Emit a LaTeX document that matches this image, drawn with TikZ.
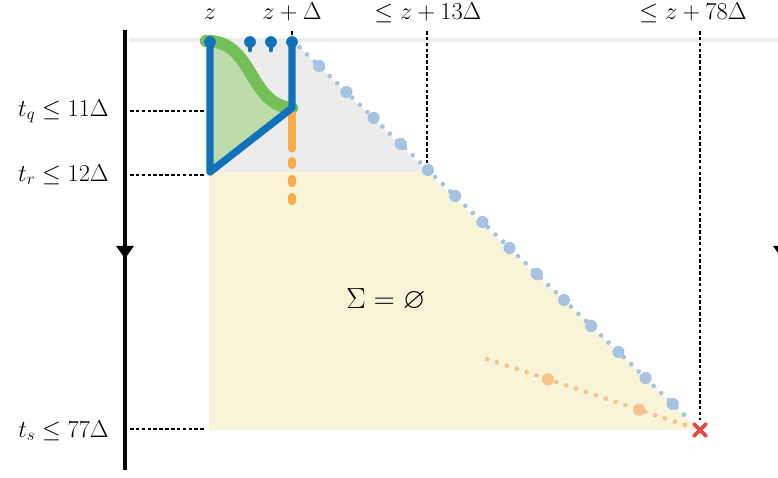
\documentclass[tikz,border=0pt]{standalone}
\usepackage{amsmath,amssymb}
\usepackage{tikz}
\usetikzlibrary{positioning,calc}
\usetikzlibrary{arrows.meta,decorations.markings}
\definecolor{ChainBlue}{RGB}{16,114,186}
\definecolor{DotBlue}{RGB}{168,194,226}
\definecolor{ForkGreen}{RGB}{116,191,87}
\definecolor{PaleGreen}{RGB}{188,220,170}
\definecolor{SoftGray}{RGB}{236,236,236}
\definecolor{PaleYellow}{RGB}{248,244,216}
\definecolor{VoteOrange}{RGB}{248,172,72}
\definecolor{DotOrange}{RGB}{248,194,140}
\definecolor{CrossRed}{RGB}{232,69,69}
\tikzset{
  timeaxis/.style={line width=3.6pt,postaction={decorate},
    decoration={markings,mark=at position 0.52 with {\arrow{Triangle[length=11pt,width=14.5pt]}}}},
  guide/.style={densely dashed,line width=1.2pt},
  lab/.style={font=\huge,inner sep=0pt},
  chain/.style={draw=ChainBlue,line width=6.2pt,line join=round,line cap=round},
  bluedots/.style={draw=DotBlue,line width=4pt,line cap=round,dash pattern=on 0pt off 8.9pt},
  orangedots/.style={draw=DotOrange,line width=4pt,line cap=round,dash pattern=on 0pt off 8.9pt},
}
\tikzset{fork/.style={draw=ForkGreen,line width=10.5pt,line cap=round},
  vote/.style={draw=VoteOrange,line width=6pt,line cap=round},
  cross/.style={draw=CrossRed,line width=3.2pt,line cap=round}}

\begin{document}
\begin{tikzpicture}[x=0.03cm,y=-0.03cm]
\useasboundingbox (0,0) rectangle (778,478);
% time points
\coordinate (zt) at (210,42);
\coordinate (zdt) at (292,42);
\coordinate (rb) at (210,172);
\coordinate (qr) at (292,108);
\coordinate (top) at (292,40);
\coordinate (mid) at (427,172);
\coordinate (end) at (700,430);
\coordinate (sb) at (209,430);
% regions
\draw[SoftGray,line width=2.6pt] (130,40) -- (778,40);
\fill[SoftGray] (209,40) -- (top) -- (mid) -- (209,172) -- cycle;
\fill[PaleYellow] (209,172) -- (mid) -- (end) -- (sb) -- cycle;
% guides
\draw[guide] (130,111) -- (204,111);
\draw[guide] (130,175) -- (206,175);
\draw[guide] (130,429) -- (205,429);
\draw[guide] (292,31) -- (top);
\draw[guide] (427,31) -- (mid);
\draw[guide] (700,31) -- (700,420);
% dotted chains
\draw[bluedots] (top) -- ($(top)!0.965!(end)$);
\foreach \k in {1,...,14}
  \fill[DotBlue] ($(top)!\k/15!(end)$) circle[radius=5.2pt];
\coordinate (ob) at (487,359);
\draw[orangedots] (ob) -- ($(ob)!0.95!(end)$);
\fill[DotOrange] ($(ob)!2/7!(end)$) circle[radius=5.2pt];
\fill[DotOrange] ($(ob)!5/7!(end)$) circle[radius=5.2pt];
\draw[cross] ($(end)+(-6,-6)$) -- ($(end)+(6,6)$);
\draw[cross] ($(end)+(-6,6)$) -- ($(end)+(6,-6)$);
% fork
\fill[PaleGreen] (zt) .. controls (254,40) and (248,105) .. (qr) -- (rb) -- cycle;
\draw[fork] (206,41) .. controls (254,40) and (248,105) .. (qr);
\draw[vote] (292,114) -- (292,149);
\foreach \y in {163,181,199}
  \draw[vote] (292,\y-2.5) -- (292,\y+2.5);
\draw[chain] (zt) -- (rb) -- (qr) -- (zdt);
\foreach \x in {250,271}{
  \draw[ChainBlue,line width=4pt,line cap=round] (\x,42) -- (\x,50);
  \fill[ChainBlue] (\x,42) circle[radius=5pt];}
\fill[ChainBlue] (zt) circle[radius=5pt];
\fill[ChainBlue] (zdt) circle[radius=5pt];
% time axes
\draw[timeaxis] (125,30) -- (125,470);
\draw[timeaxis] (782,30) -- (782,470);
% labels
\node[lab,anchor=base] (lz) at (210,20) {$z$};
\node[lab,anchor=base] (lzd) at (292,20) {$z+\Delta$};
\node[lab,anchor=base] (l13) at (428,20) {$\le z+13\Delta$};
\node[lab,anchor=base] (l78) at (693,20) {$\le z+78\Delta$};
\node[lab,anchor=base east] (ltq) at (109,116) {$t_q\le 11\Delta$};
\node[lab,anchor=base east] (ltr) at (109,181) {$t_r\le 12\Delta$};
\node[lab,anchor=base east] (lts) at (109,437) {$t_s\le 77\Delta$};
\node[lab,font=\Huge,anchor=base] (sig) at (386,308) {$\Sigma=\varnothing$};
\end{tikzpicture}
\end{document}
